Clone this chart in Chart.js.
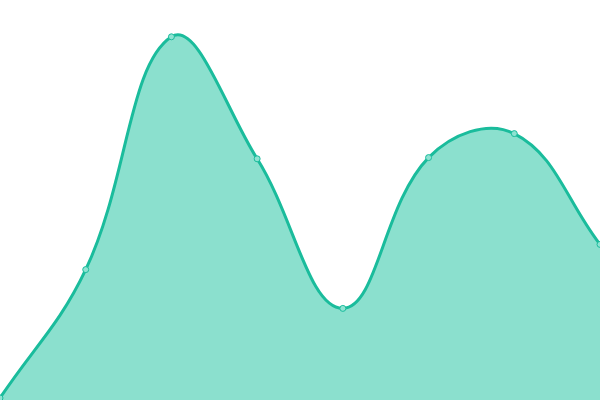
<!DOCTYPE html>
<html>
<head>
<meta charset="utf-8">
<script src="https://cdn.jsdelivr.net/npm/chart.js@4/dist/chart.umd.min.js"></script>
<style>
  html, body { margin: 0; padding: 0; background: #fff; }
  #wrap { width: 600px; height: 400px; }
</style>
</head>
<body>
<div id="wrap"><canvas id="chart"></canvas></div>
<script>
const labels = ["1", "2", "3", "4", "5", "6", "7", "8"];
const values = [0.5, 32.6, 90.8, 60.3, 22.9, 60.6, 66.6, 38.9];

new Chart(document.getElementById("chart"), {
  type: "line",
  data: {
    labels: labels,
    datasets: [
      {
        data: values,
        fill: "start",
        backgroundColor: "rgba(24, 194, 158, 0.5)",
        borderColor: "#1abc9c",
        borderWidth: 3,
        tension: 0.4,
        pointRadius: 3,
        pointBorderWidth: 1,
        pointBackgroundColor: "#8ee3d2",
        pointBorderColor: "#1abc9c",
      },
    ],
  },
  options: {
    responsive: true,
    maintainAspectRatio: false,
    animation: false,
    layout: { padding: 0, autoPadding: false },
    plugins: { legend: { display: false }, tooltip: { enabled: false } },
    scales: {
      x: { display: false, offset: false },
      y: { display: false, min: 0, max: 100 },
    },
  },
});
</script>
</body>
</html>
